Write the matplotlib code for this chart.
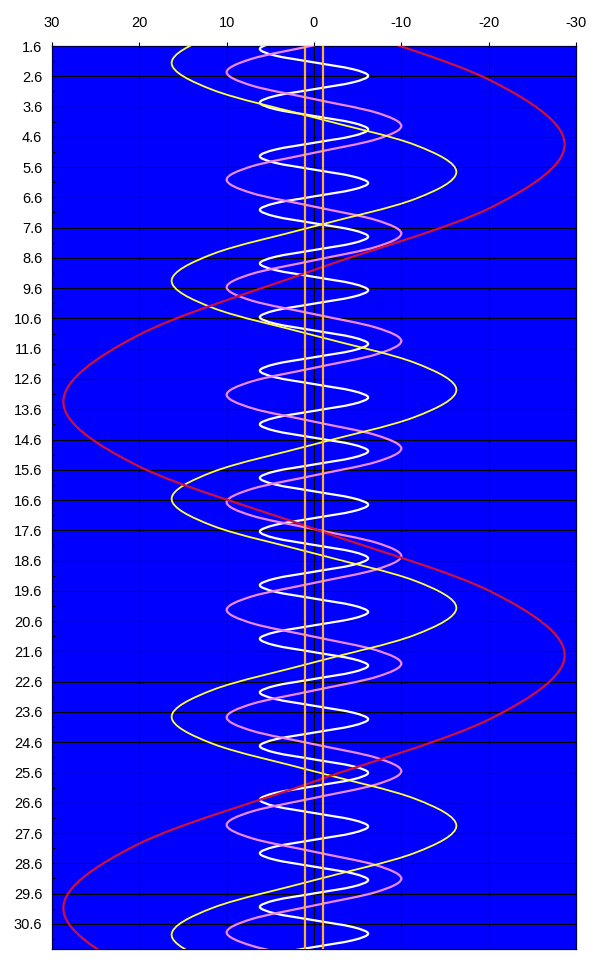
import numpy as np
import matplotlib
matplotlib.use("Agg")
import matplotlib.pyplot as plt
from matplotlib.path import Path
from matplotlib.patches import PathPatch

plt.rcParams['font.family'] = ['Liberation Sans', 'DejaVu Sans']

# white curve (read at steps of 0.2214 day starting 1.034)
io_x = [
    -4.4, 0, 4.4, 6.2, 4.4, 0, -4.4, -6.2,
    -4.4, 0, 4.4, 6.2, 4.4, 0, -4.4, -6.2,
    -4.4, 0, 4.4, 6.2, 4.4, 0, -4.4, -6.2,
    -4.4, 0, 4.4, 6.2, 4.4, 0, -4.4, -6.2,
    -4.4, 0, 4.4, 6.2, 4.4, 0, -4.4, -6.2,
    -4.4, 0, 4.4, 6.2, 4.4, 0, -4.4, -6.2,
    -4.4, 0, 4.4, 6.2, 4.4, 0, -4.4, -6.2,
    -4.4, 0, 4.4, 6.2, 4.4, 0, -4.4, -6.2,
    -4.4, 0, 4.4, 6.2, 4.4, 0, -4.4, -6.2,
    -4.4, 0, 4.4, 6.2, 4.4, 0, -4.4, -6.2,
    -4.4, 0, 4.4, 6.2, 4.4, 0, -4.4, -6.2,
    -4.4, 0, 4.4, 6.2, 4.4, 0, -4.4, -6.2,
    -4.4, 0, 4.4, 6.2, 4.4, 0, -4.4, -6.2,
    -4.4, 0, 4.4, 6.2, 4.4, 0, -4.4, -6.2,
    -4.4, 0, 4.4, 6.2, 4.4, 0, -4.4, -6.2,
    -4.4, 0, 4.4, 6.2, 4.4, 0, -4.4, -6.2,
    -4.4, 0, 4.4, 6.2, 4.4, 0, -4.4, -6.2,
    -4.4, 0, 4.4, 6.2, 4.4,
]
io_t = 1.034 + 0.2214 * np.arange(len(io_x))

# pink curve (steps of 0.444 day starting 1.133)
europa_x = [
    -7.1, 0, 7.1, 10.0, 7.1, 0, -7.1, -10.0,
    -7.1, 0, 7.1, 10.0, 7.1, 0, -7.1, -10.0,
    -7.1, 0, 7.1, 10.0, 7.1, 0, -7.1, -10.0,
    -7.1, 0, 7.1, 10.0, 7.1, 0, -7.1, -10.0,
    -7.1, 0, 7.1, 10.0, 7.1, 0, -7.1, -10.0,
    -7.1, 0, 7.1, 10.0, 7.1, 0, -7.1, -10.0,
    -7.1, 0, 7.1, 10.0, 7.1, 0, -7.1, -10.0,
    -7.1, 0, 7.1, 10.0, 7.1, 0, -7.1, -10.0,
    -7.1, 0, 7.1, 10.0, 7.1, 0, -7.1,
]
europa_t = 1.133 + 0.444 * np.arange(len(europa_x))

# yellow curve (steps of 0.9 day starting -0.54)
ganymede_x = [
    -11.5, 0, 11.5, 16.3, 11.5, 0, -11.5, -16.3,
    -11.5, 0, 11.5, 16.3, 11.5, 0, -11.5, -16.3,
    -11.5, 0, 11.5, 16.3, 11.5, 0, -11.5, -16.3,
    -11.5, 0, 11.5, 16.3, 11.5, 0, -11.5, -16.3,
    -11.5, 0, 11.5, 16.3, 11.5, 0,
]
ganymede_t = -0.54 + 0.9 * np.arange(len(ganymede_x))

# red curve
callisto_t = [-1.45, 0.65, 2.75, 4.85, 6.93, 9.0, 11.18, 13.35, 15.45,
              17.55, 19.63, 21.72, 23.81, 25.9, 27.99, 30.08, 32.17, 34.26]
callisto_x = [20.3, 0, -20.3, -28.7, -20.3, 0, 20.3, 28.7, 20.3,
              0, -20.3, -28.7, -20.3, 0, 20.3, 28.7, 20.3, 0]

disk_edges = [1, -1]

x_ticks = [30, 20, 10, 0, -10, -20, -30]
y_ticks = np.arange(1.6, 30.7, 1.0)
y_minor = np.arange(2.1, 31.2, 1.0)


def smooth_path(x, y):
    pts = np.column_stack([x, y]).astype(float)
    p = np.vstack([pts[0], pts, pts[-1]])
    verts = [pts[0]]
    codes = [Path.MOVETO]
    for i in range(1, len(p) - 2):
        c1 = p[i] + (p[i + 1] - p[i - 1]) / 6.0
        c2 = p[i + 1] - (p[i + 2] - p[i]) / 6.0
        verts += [c1, c2, p[i + 1]]
        codes += [Path.CURVE4] * 3
    return Path(verts, codes)


fig = plt.figure(figsize=(6.02, 9.76), dpi=100)
ax = fig.add_axes([52 / 602, 1 - 949 / 976, 524 / 602, 903 / 976])
ax.set_facecolor('#0000FF')

series = [
    (io_x, io_t, '#FFFFFF', 1.6),
    (europa_x, europa_t, '#EE88EE', 1.6),
    (ganymede_x, ganymede_t, '#FFFF40', 1.3),
    (callisto_x, callisto_t, '#D0103A', 1.6),
]
for xs, ts, col, lw in series:
    ax.add_patch(PathPatch(smooth_path(xs, ts), fill=False, edgecolor=col,
                           lw=lw, zorder=3))

for d in disk_edges:
    ax.axvline(d, color='#FFB030', lw=1.6, zorder=4)

ax.set_xlim(30, -30)
ax.set_ylim(31.43, 1.6)

ax.xaxis.tick_top()
ax.set_xticks(x_ticks)
ax.set_xticklabels([str(v) for v in x_ticks])
ax.set_yticks(y_ticks)
ax.set_yticklabels(['%.1f' % v for v in y_ticks])
ax.set_yticks(y_minor, minor=True)

ax.tick_params(axis='x', direction='out', length=3.2, width=0.8,
               pad=8, labelsize=10.5, colors='black')
ax.tick_params(axis='y', which='major', direction='in', length=3,
               width=0.8, pad=7, labelsize=10.5)
ax.tick_params(axis='y', which='minor', direction='in', length=2.5,
               width=0.8)

ax.grid(True, which='major', color='black', lw=0.72, antialiased=False,
        zorder=1)
ax.set_axisbelow(True)
for s in ax.spines.values():
    s.set_color('#000040')
    s.set_linewidth(0.9)

fig.savefig('out.png', dpi=100)
